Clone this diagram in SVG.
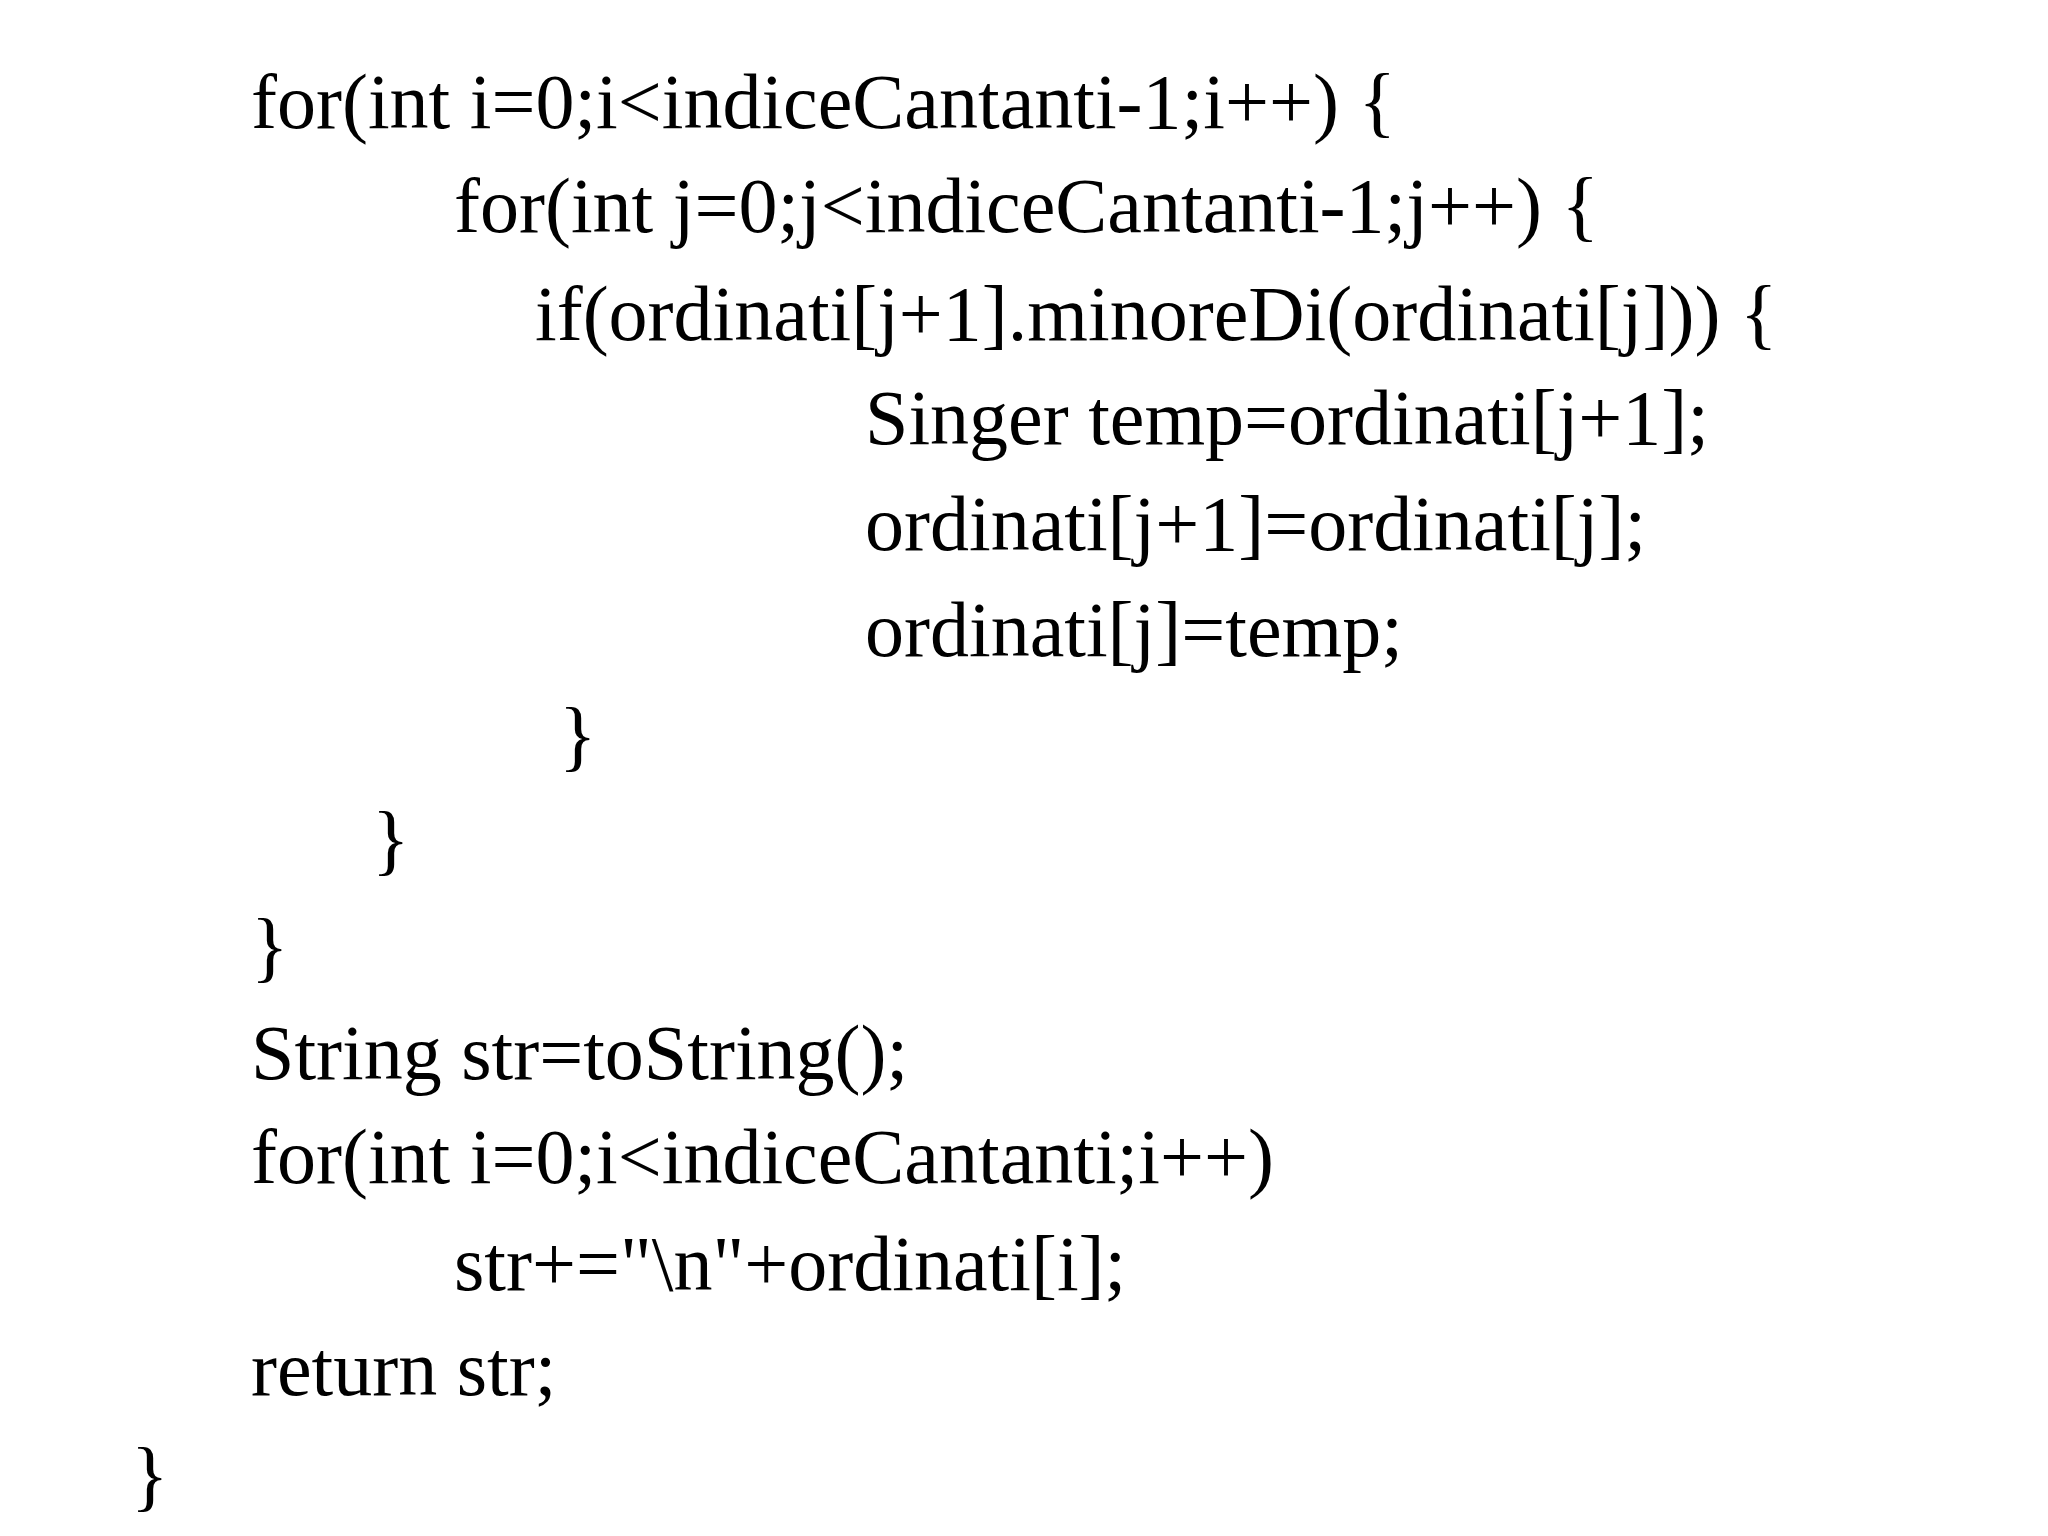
<svg xmlns="http://www.w3.org/2000/svg" width="2048" height="1536" viewBox="0 0 2048 1536">
<style>text{font-family:"Liberation Serif","Times New Roman",serif;font-size:78px;fill:#000}</style>
<rect width="2048" height="1536" fill="#fff"/>
<g id="code" xml:space="preserve">
<text x="251" y="128">for(int i=0;i&lt;indiceCantanti-1;i++)  {</text>
<text x="454" y="232">for(int j=0;j&lt;indiceCantanti-1;j++) {</text>
<text x="535" y="340">if(ordinati[j+1].minoreDi(ordinati[j]))  {</text>
<text x="865" y="444">Singer temp=ordinati[j+1];</text>
<text x="865" y="550">ordinati[j+1]=ordinati[j];</text>
<text x="865" y="656">ordinati[j]=temp;</text>
<text x="559" y="762">}</text>
<text x="372" y="866">}</text>
<text x="251" y="973">}</text>
<text x="251" y="1079">String str=toString();</text>
<text x="251" y="1183">for(int i=0;i&lt;indiceCantanti;i++)</text>
<text x="454" y="1290">str+="\n"+ordinati[i];</text>
<text x="251" y="1395">return str;</text>
<text x="131" y="1502">}</text>
</g>
</svg>
